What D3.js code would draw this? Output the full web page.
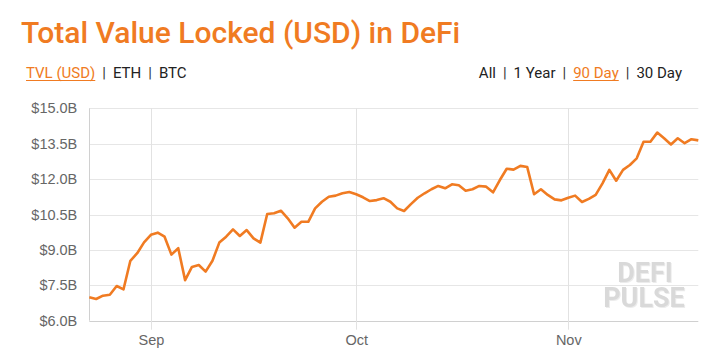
<!DOCTYPE html>
<html>
<head>
<meta charset="utf-8">
<script src="https://cdn.jsdelivr.net/npm/d3@7/dist/d3.min.js"></script>
<style>
  html, body { margin: 0; padding: 0; background: #fff; }
  svg { display: block; }
</style>
</head>
<body>
<svg id="chart" width="713" height="361"></svg>
<script>
// ---------- data ----------
const startDate = "2020-08-23";
const tvlValues = [
  6.99, 6.92, 7.06, 7.10, 7.47, 7.33, 8.54, 8.86, 9.32, 9.64,
  9.73, 9.56, 8.80, 9.07, 7.72, 8.28, 8.36, 8.08, 8.54, 9.31,
  9.56, 9.87, 9.59, 9.84, 9.49, 9.31, 10.52, 10.55, 10.66, 10.34,
  9.94, 10.19, 10.19, 10.76, 11.04, 11.25, 11.30, 11.40, 11.45, 11.36,
  11.23, 11.07, 11.11, 11.19, 11.04, 10.76, 10.65, 10.94, 11.21, 11.40,
  11.57, 11.71, 11.61, 11.78, 11.74, 11.51, 11.57, 11.71, 11.68, 11.44,
  11.96, 12.44, 12.40, 12.56, 12.51, 11.36, 11.57, 11.33, 11.14, 11.10,
  11.21, 11.30, 11.03, 11.16, 11.33, 11.82, 12.39, 11.93, 12.39, 12.60,
  12.88, 13.58, 13.58, 13.97, 13.73, 13.47, 13.73, 13.52, 13.69, 13.64
];
const yTickValues = [6.0, 7.5, 9.0, 10.5, 12.0, 13.5, 15.0];
const yTickLabels = ["$6.0B", "$7.5B", "$9.0B", "$10.5B", "$12.0B", "$13.5B", "$15.0B"];
const xTickDates = ["2020-09-01", "2020-10-01", "2020-11-01"];
const xTickLabels = ["Sep", "Oct", "Nov"];
const titleText = "Total Value Locked (USD) in DeFi";
const leftTabs = ["TVL (USD)", "ETH", "BTC"];
const rightTabs = ["All", "1 Year", "90 Day", "30 Day"];
const activeLeft = "TVL (USD)";
const activeRight = "90 Day";
const watermarkLines = ["DEFI", "PULSE"];

(function () {
// ---------- setup ----------
const orange = "#f07b22";
const svg = d3.select("#chart");
const parse = d3.timeParse("%Y-%m-%d");
const t0 = parse(startDate);
const data = tvlValues.map((v, i) => ({ date: d3.timeDay.offset(t0, i), value: v }));

const pL = 89.3, pR = 698.3, pT = 108.3, pB = 320.7;
const x = d3.scaleTime()
  .domain([data[0].date, data[data.length - 1].date])
  .range([pL, pR]);
const y = d3.scaleLinear().domain([6, 15]).range([pB, pT]);

// ---------- title ----------
svg.append("text")
  .attr("x", 21).attr("y", 43)
  .attr("font-family", "Roboto, sans-serif")
  .attr("font-weight", 500)
  .attr("font-size", 30)
  .attr("fill", orange)
  .text(titleText);

// ---------- tabs ----------
function drawTabs(items, active, xStart, anchorEnd) {
  const g = svg.append("g");
  const fs = 15, base = 78, gap = 7;
  const parts = [];
  items.forEach((t, i) => {
    if (i > 0) parts.push({ t: "|", sep: true });
    parts.push({ t, sep: false });
  });
  let cx = 0;
  parts.forEach(p => {
    const el = g.append("text")
      .attr("x", cx).attr("y", base)
      .attr("font-family", "Roboto, sans-serif")
      .attr("font-size", fs)
      .attr("fill", p.t === active ? orange : (p.sep ? "#333" : "#222"))
      .text(p.t);
    const w = el.node().getComputedTextLength();
    if (p.t === active) {
      g.append("rect").attr("x", cx).attr("y", base + 2).attr("width", w).attr("height", 1).attr("fill", orange);
    }
    cx += w + gap;
  });
  const total = cx - gap;
  const shift = anchorEnd ? xStart - total : xStart;
  g.attr("transform", `translate(${shift},0)`);
}
drawTabs(leftTabs, activeLeft, 26, false);
drawTabs(rightTabs, activeRight, 682, true);

// ---------- grid ----------
const grid = svg.append("g");
yTickValues.forEach(v => {
  const yy = Math.round(y(v)) + 0.5;
  grid.append("line")
    .attr("x1", pL).attr("x2", pR)
    .attr("y1", yy).attr("y2", yy)
    .attr("stroke", v === 6 ? "#d0d0d0" : "#e6e6e6").attr("stroke-width", 1);
});
grid.append("line")
  .attr("x1", Math.round(pL) + 0.5).attr("x2", Math.round(pL) + 0.5).attr("y1", pT).attr("y2", pB)
  .attr("stroke", "#d0d0d0");
xTickDates.forEach(d => {
  const xx = Math.round(x(parse(d))) + 0.5;
  grid.append("line")
    .attr("x1", xx).attr("x2", xx).attr("y1", pT).attr("y2", pB + 9)
    .attr("stroke", "#e2e2e2");
});

// ---------- axes labels ----------
const yAxis = d3.axisLeft(y)
  .tickValues(yTickValues)
  .tickFormat((d, i) => yTickLabels[i])
  .tickSize(0).tickPadding(12);
const ya = svg.append("g").attr("transform", `translate(${pL},0)`).call(yAxis);
ya.select(".domain").remove();
ya.selectAll("text")
  .attr("font-family", "Liberation Sans, Arial, sans-serif")
  .attr("font-size", 14.5).attr("fill", "#666");

const xAxis = d3.axisBottom(x)
  .tickValues(xTickDates.map(parse))
  .tickFormat((d, i) => xTickLabels[i])
  .tickSize(0).tickPadding(14);
const xa = svg.append("g").attr("transform", `translate(0,${pB})`).call(xAxis);
xa.select(".domain").remove();
xa.selectAll("text")
  .attr("font-family", "Liberation Sans, Arial, sans-serif")
  .attr("font-size", 14.5).attr("fill", "#666");

// ---------- watermark (one text, two lines) ----------
const wm = svg.append("text")
  .attr("font-family", "Roboto, sans-serif")
  .attr("font-weight", 700)
  .attr("font-size", 27)
  .attr("text-anchor", "middle")
  .attr("fill", "#d9d9d9")
  .style("filter", "drop-shadow(1.5px 1px 0 #ececec)");
[[645, 282], [644, 307]].forEach(([wx, wy], i) => {
  wm.append("tspan").attr("x", wx).attr("y", wy).text(watermarkLines[i]);
});

// ---------- line ----------
const line = d3.line().x(d => x(d.date)).y(d => y(d.value));
svg.append("path")
  .datum(data)
  .attr("fill", "none")
  .attr("stroke", orange)
  .attr("stroke-width", 2.6)
  .attr("stroke-linejoin", "round")
  .attr("d", line);
})();
</script>
</body>
</html>
